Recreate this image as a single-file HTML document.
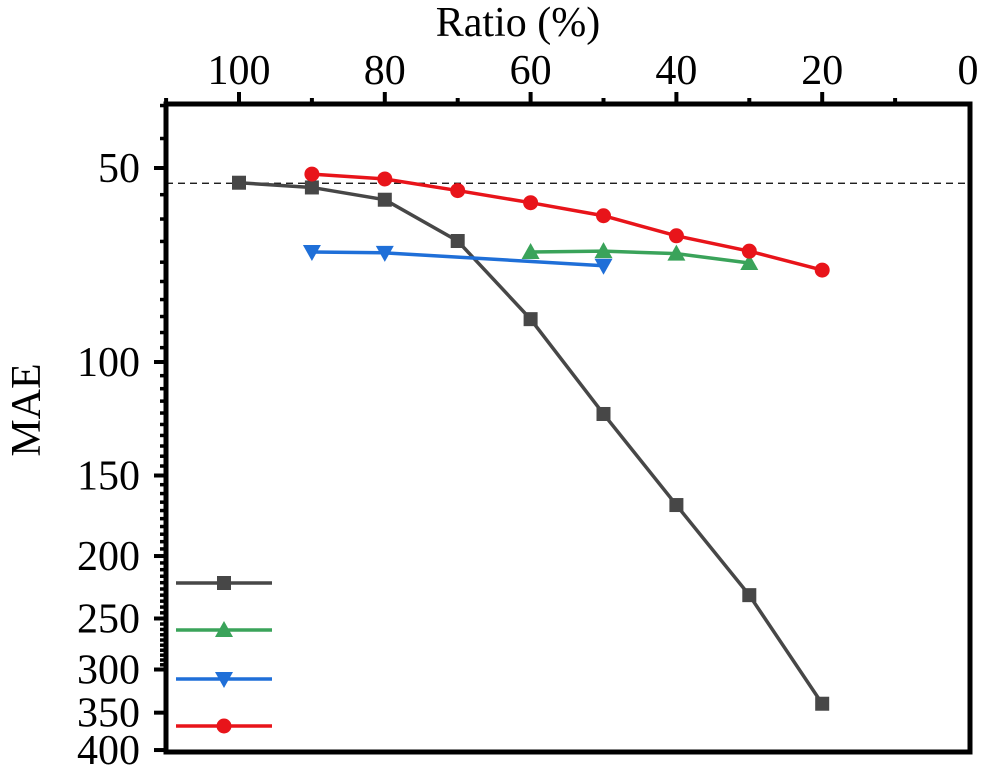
<!DOCTYPE html>
<html><head><meta charset="utf-8"><style>
body{margin:0;background:#fff}
text{font-family:"Liberation Serif",serif;fill:#000}
</style></head><body>
<svg width="981" height="769" xmlns="http://www.w3.org/2000/svg">
<g id="g"></g>
</svg>
<script>
const ratios=[100,90,80,70,60,50,40,30,20];
const blackVals=[52.7,53.6,56.0,64.9,85.8,120.4,166.7,230,339];
const greenRatios=[60,50,40,30];
const greenVals=[67.5,67.3,67.9,70.2];
const blueRatios=[90,80,50];
const blueVals=[67.5,67.7,70.9];
const redRatios=[90,80,70,60,50,40,30,20];
const redVals=[51.1,52.0,54.2,56.6,59.3,63.7,67.3,72.0];
const xTicks=[100,80,60,40,20,0];
const yTicks=[50,100,150,200,250,300,350,400];
const refLine=52.8;

const L=166,R=970,T=104,B=752;
const X=r=>239+(100-r)*7.29;
const Y=v=>168+(Math.log10(v)-Math.log10(50))*644.5;
const g=document.getElementById('g');
const NS='http://www.w3.org/2000/svg';
function mk(t,a,p){const e=document.createElementNS(NS,t);for(const k in a)e.setAttribute(k,a[k]);(p||g).appendChild(e);return e;}

for(let r=10;r<=110;r+=10){const x=X(r);const big=r%20==0;
 mk('line',{x1:x,x2:x,y1:T,y2:T-(big?12:6),stroke:'#000','stroke-width':4});}
for(let v=40;v<=300;v+=5){if(v%50==0)continue;const y=Y(v);
 mk('line',{x1:L,x2:L-6,y1:y,y2:y,stroke:'#000','stroke-width':3.5});}
xTicks.forEach(r=>{const t=mk('text',{x:X(r),y:84,'text-anchor':'middle','font-size':42});t.textContent=r;
 
 });
yTicks.forEach(v=>{const y=Y(v);
 mk('line',{x1:L,x2:L-12,y1:y,y2:y,stroke:'#000','stroke-width':4});
 const t=mk('text',{x:140,y:y+14,'text-anchor':'end','font-size':42});t.textContent=v;
 
 });
let e=mk('rect',{x:L,y:T,width:R-L,height:B-T,fill:'none',stroke:'#000','stroke-width':5});


let t=mk('text',{x:518,y:36,'text-anchor':'middle','font-size':42});t.textContent='Ratio (%)';


t=mk('text',{x:0,y:0,'text-anchor':'middle','font-size':42,transform:'translate(40,410) rotate(-90)'});t.textContent='MAE';


e=mk('line',{x1:L,x2:R,y1:Y(refLine),y2:Y(refLine),stroke:'#000','stroke-width':1.3,'stroke-dasharray':'7,5'});



function marker(type,x,y,c,name){let m;
 if(type=='sq')m=mk('rect',{x:x-7,y:y-7,width:14,height:14,fill:c});
 else if(type=='up')m=mk('polygon',{points:`${x},${y-9} ${x-9},${y+7} ${x+9},${y+7}`,fill:c});
 else if(type=='down')m=mk('polygon',{points:`${x},${y+9} ${x-9},${y-7} ${x+9},${y-7}`,fill:c});
 else m=mk('circle',{cx:x,cy:y,r:7.5,fill:c});
 
 }
function series(rs,vs,c,type,name){
 const pl=mk('polyline',{points:rs.map((r,i)=>X(r)+','+Y(vs[i])).join(' '),fill:'none',stroke:c,'stroke-width':3.5});
 
 
 rs.forEach((r,i)=>marker(type,X(r),Y(vs[i]),c,name+'-point'));}
series(ratios,blackVals,'#474747','sq','black-series');
series(greenRatios,greenVals,'#3aa35a','up','green-series');
series(blueRatios,blueVals,'#1f6fd8','down','blue-series');
series(redRatios,redVals,'#e8141a','ci','red-series');

[['#474747','sq',583],['#3aa35a','up',630],['#1f6fd8','down',679],['#e8141a','ci',726]].forEach(([c,tp,y])=>{
 const l=mk('line',{x1:176,x2:272,y1:y,y2:y,stroke:c,'stroke-width':3.5});
 
 
 marker(tp,224,y,c,'legend-marker');});
</script>
</body></html>
